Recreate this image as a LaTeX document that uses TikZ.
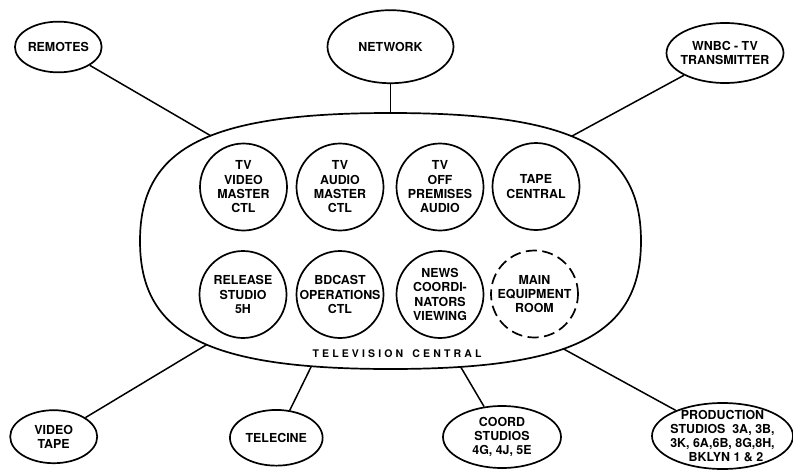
\documentclass[tikz,border=0pt]{standalone}
\usepackage{fontspec}
\setmainfont{TeX Gyre Heros}
\newfontfamily\tvcfont[LetterSpace=30]{TeX Gyre Heros}
\usetikzlibrary{shapes.geometric}
\begin{document}
\begin{tikzpicture}[x=1pt,y=-1pt,line width=1.7pt,
  lbl/.style={font=\bfseries\fontsize{12.4}{14.3}\selectfont,align=center},
  room/.style={lbl,circle,draw,minimum size=87pt,inner sep=-5pt},
  dashedroom/.style={room,dash pattern=on 11pt off 5.5pt},
  site/.style={lbl,ellipse,draw,inner sep=-15pt},
  link/.style={draw,line width=1.5pt}]
\useasboundingbox (0,0) rectangle (793,469);
% outer sites
\node[site,minimum width=86.7pt,minimum height=50.7pt] (remotes) at (58.3,47) {REMOTES};
\node[site,minimum width=126pt,minimum height=73pt] (network) at (390.5,46.7) {NETWORK};
\node[site,minimum width=117pt,minimum height=60pt] (wnbc) at (725,53) {WNBC - TV\\TRANSMITTER};
\node[site,minimum width=87pt,minimum height=53pt] (vtape) at (53.7,436.7) {VIDEO\\TAPE};
\node[site,minimum width=92.7pt,minimum height=55.7pt] (telecine) at (276.3,437.8) {TELECINE};
\node[site,minimum width=118pt,minimum height=62pt] (coord) at (502,437) {COORD\\STUDIOS\\4G, 4J, 5E};
\node[site,minimum width=141pt,minimum height=66pt] (prod) at (722.5,436) {PRODUCTION\\STUDIOS\ \ 3A, 3B,\\3K, 6A,6B, 8G,8H,\\\ \ BKLYN 1 \& 2};
% television central outline
\coordinate (tvE) at (641,241);
\coordinate (tvN) at (390.5,113);
\coordinate (tvW) at (140,241);
\coordinate (tvS) at (390.5,369);
\draw (tvE) .. controls (641,147.6) and (573.4,113) .. (tvN) coordinate[pos=0.55] (jwnbc)
  .. controls (207.6,113) and (140,147.6) .. (tvW) coordinate[pos=0.445] (jrem)
  .. controls (140,334.4) and (207.6,369) .. (tvS) coordinate[pos=0.54] (jvt) coordinate[pos=0.84] (jtc)
  .. controls (573.4,369) and (641,334.4) .. (tvE) coordinate[pos=0.14] (jco) coordinate[pos=0.42] (jps)
  -- cycle;
\node[font=\tvcfont\bfseries\fontsize{10.5}{12}\selectfont,inner sep=0pt] (tvlabel) at (397,353.5) {TELEVISION\hspace{3pt} CENTRAL};
% rooms
\node[room] (vmc) at (243.5,187) {TV\\VIDEO\\MASTER\\CTL};
\node[room] (amc) at (340,187) {TV\\AUDIO\\MASTER\\CTL};
\node[room] (opa) at (440,187) {TV\\OFF\\PREMISES\\AUDIO};
\node[room] (tape) at (536,186.5) {TAPE\\CENTRAL};
\node[room] (rel) at (243,294.5) {RELEASE\\STUDIO\\5H};
\node[room] (bdc) at (340,294.5) {BDCAST\\OPERATIONS\\CTL};
\node[room] (news) at (440,294.5) {NEWS\\COORDI-\\NATORS\\VIEWING};
\node[dashedroom] (mer) at (534.5,294) {MAIN\\EQUIPMENT\\ROOM};
% connectors
\draw[link] (remotes) -- (jrem);
\draw[link] (network) -- (tvN);
\draw[link] (wnbc) -- (jwnbc);
\draw[link] (vtape) -- (jvt);
\draw[link] (telecine) -- (jtc);
\draw[link] (coord) -- (jco);
\draw[link] (prod) -- (jps);
\end{tikzpicture}
\end{document}
